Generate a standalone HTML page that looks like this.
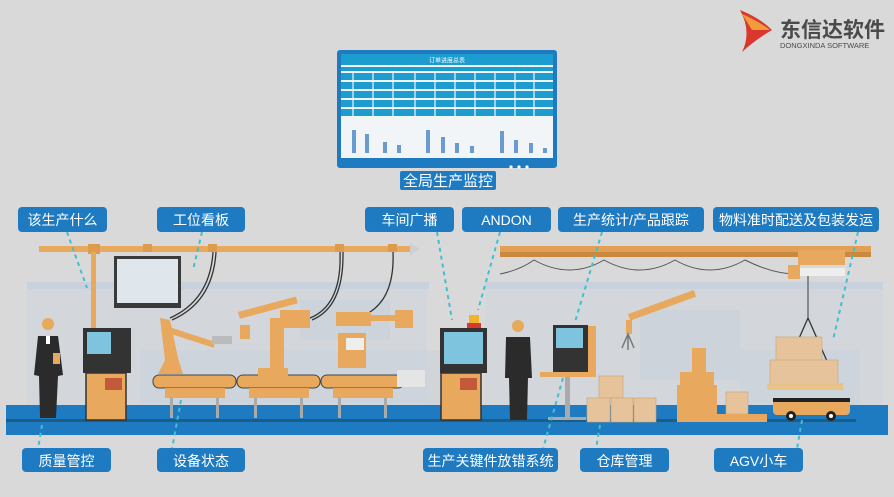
<!DOCTYPE html>
<html><head><meta charset="utf-8"><style>
html,body{margin:0;padding:0;background:#d9d9d9;}
svg{display:block;}
text{font-family:"Liberation Sans","Noto Sans CJK SC",sans-serif;}
</style></head><body>
<svg width="894" height="497" viewBox="0 0 894 497" xmlns="http://www.w3.org/2000/svg">
<rect width="894" height="497" fill="#d9d9d9"/>
<g fill="#c9d2dc">
<rect x="27" y="282" width="402" height="7"/>
<rect x="485" y="282" width="398" height="7"/>
<rect x="27" y="289" width="400" height="116" opacity="0.35"/>
<rect x="485" y="289" width="398" height="116" opacity="0.35"/>
<rect x="300" y="300" width="90" height="40" opacity="0.7"/>
<rect x="640" y="310" width="100" height="70" opacity="0.7"/>
<rect x="740" y="350" width="120" height="55" opacity="0.6"/>
<rect x="140" y="350" width="300" height="55" opacity="0.5"/>
</g>
<rect x="6" y="405" width="882" height="30" fill="#1f7bc1"/>
<rect x="6" y="419" width="850" height="3" fill="#1a5e86"/>
<!-- top monitor -->
<rect x="337" y="50" width="220" height="118" rx="3" fill="#1f7bc1"/>
<rect x="341" y="54" width="212" height="104" fill="#f2f5f8"/>
<rect x="341" y="54" width="212" height="11" fill="#1d9ccf"/>
<text x="447" y="62.5" font-size="6" fill="#fff" text-anchor="middle">订单进度总表</text>
<rect x="341" y="67" width="212" height="4" fill="#1d9ccf"/>
<g fill="#1d9ccf">
<rect x="341" y="73" width="212" height="7"/>
<rect x="341" y="82" width="212" height="7"/>
<rect x="341" y="91" width="212" height="7"/>
<rect x="341" y="100" width="212" height="7"/>
<rect x="341" y="109" width="212" height="7"/>
</g>
<g stroke="#f2f5f8" stroke-width="1.2">
<line x1="353" y1="72" x2="353" y2="117"/><line x1="373" y1="72" x2="373" y2="117"/><line x1="393" y1="72" x2="393" y2="117"/>
<line x1="415" y1="72" x2="415" y2="117"/><line x1="435" y1="72" x2="435" y2="117"/><line x1="455" y1="72" x2="455" y2="117"/>
<line x1="475" y1="72" x2="475" y2="117"/><line x1="495" y1="72" x2="495" y2="117"/><line x1="515" y1="72" x2="515" y2="117"/><line x1="534" y1="72" x2="534" y2="117"/>
</g>
<g fill="#6a9bd0">
<rect x="352" y="130" width="4" height="23"/><rect x="365" y="134" width="4" height="19"/><rect x="383" y="142" width="4" height="11"/><rect x="397" y="145" width="4" height="8"/>
<rect x="426" y="130" width="4" height="23"/><rect x="441" y="137" width="4" height="16"/><rect x="455" y="143" width="4" height="10"/><rect x="470" y="146" width="4" height="7"/>
<rect x="500" y="131" width="4" height="22"/><rect x="514" y="140" width="4" height="13"/><rect x="529" y="143" width="4" height="10"/><rect x="543" y="148" width="4" height="5"/>
</g>
<circle cx="511" cy="167" r="1.6" fill="#fff"/><circle cx="519" cy="167" r="1.6" fill="#fff"/><circle cx="527" cy="167" r="1.6" fill="#fff"/>
<rect x="400" y="171" width="96" height="19" rx="2" fill="#1f7bc1"/>
<text x="448" y="186" font-size="15" fill="#fff" text-anchor="middle">全局生产监控</text>
<!-- logo -->
<path d="M740 10 Q760 18 772 30 Q755 40 742 52 Q752 32 740 10 Z" fill="#d8382e"/>
<path d="M742 14 Q760 22 770 30 L752 30 Z" fill="#f39a3a"/>
<text x="780" y="37" font-size="21" fill="#4a4a4a" font-weight="bold">东信达软件</text>
<text x="780" y="48" font-size="7.5" fill="#4a4a4a">DONGXINDA SOFTWARE</text>
<!-- pipes -->
<rect x="39" y="246" width="371" height="6" fill="#e8a85e"/>
<rect x="88" y="244" width="12" height="10" fill="#dd9b4e"/>
<rect x="91" y="252" width="5" height="78" fill="#e8a85e"/>
<rect x="143" y="244" width="9" height="8" fill="#dd9b4e"/><rect x="208" y="244" width="9" height="8" fill="#dd9b4e"/>
<rect x="335" y="244" width="9" height="8" fill="#dd9b4e"/><rect x="388" y="244" width="9" height="8" fill="#dd9b4e"/>
<path d="M410 243 L420 249 L410 255 Z" fill="#cfcfcf"/>
<rect x="500" y="246" width="371" height="11" fill="#e3a055"/><rect x="500" y="252" width="371" height="5" fill="#c98a40"/>
<path d="M500 274 Q520 270 534 260 Q570 280 604 260 Q640 280 675 260 Q710 280 745 260 Q775 275 800 274" fill="none" stroke="#555" stroke-width="1"/>
<g fill="none" stroke="#333" stroke-width="1.3">
<path d="M213 252 Q210 300 170 318"/><path d="M216 252 Q213 302 172 320"/>
<path d="M340 252 Q342 305 310 318"/><path d="M343 252 Q344 307 312 320"/>
<path d="M393 252 Q395 300 365 315"/>
</g>
<rect x="798" y="250" width="47" height="15" fill="#e8a85e"/>
<rect x="788" y="265" width="12" height="14" fill="#e8a85e"/>
<rect x="800" y="268" width="45" height="8" fill="#eee"/>
<line x1="808" y1="276" x2="808" y2="318" stroke="#888" stroke-width="2"/>
<path d="M808 318 L778 386 M808 318 L838 386" stroke="#333" stroke-width="1.3" fill="none"/>
<rect x="114" y="256" width="67" height="52" fill="#3a3a3a"/>
<rect x="117" y="259" width="61" height="44" fill="#dfe6ec"/>
<circle cx="48" cy="324" r="6" fill="#e7a95a"/>
<path d="M38 336 L58 336 L63 375 L58 376 L56 418 L40 418 L39 376 L34 375 Z" fill="#2b2b2b"/>
<rect x="46" y="336" width="4" height="8" fill="#fff"/>
<rect x="53" y="353" width="7" height="11" fill="#e7a95a"/>
<rect x="83" y="328" width="48" height="45" fill="#333"/>
<rect x="87" y="332" width="24" height="22" fill="#7fc4df"/>
<rect x="86" y="373" width="40" height="47" fill="#e8a85e" stroke="#333" stroke-width="1.5"/>
<rect x="105" y="378" width="17" height="12" fill="#c25a3a"/>
<g>
<rect x="153" y="375" width="83" height="13" rx="6" fill="#e8a85e" stroke="#444" stroke-width="1"/>
<rect x="237" y="375" width="83" height="13" rx="6" fill="#e8a85e" stroke="#444" stroke-width="1"/>
<rect x="321" y="375" width="83" height="13" rx="6" fill="#e8a85e" stroke="#444" stroke-width="1"/>
<rect x="165" y="388" width="60" height="10" fill="#e8a85e"/><rect x="249" y="388" width="60" height="10" fill="#e8a85e"/><rect x="333" y="388" width="60" height="10" fill="#e8a85e"/>
<g fill="#aaa">
<rect x="170" y="398" width="3" height="20"/><rect x="216" y="398" width="3" height="20"/>
<rect x="254" y="398" width="3" height="20"/><rect x="300" y="398" width="3" height="20"/>
<rect x="338" y="398" width="3" height="20"/><rect x="384" y="398" width="3" height="20"/>
</g>
</g>
<g fill="#e8a85e">
<path d="M158 374 L183 374 L178 358 L170 320 L160 318 L165 360 Z"/>
<rect x="163" y="325" width="55" height="6" transform="rotate(18 163 325)"/>
<rect x="212" y="336" width="20" height="8" fill="#bbb"/>
<rect x="258" y="368" width="30" height="8"/>
<rect x="270" y="318" width="14" height="52"/>
<rect x="238" y="312" width="60" height="7" transform="rotate(-15 238 312)"/>
<rect x="280" y="310" width="30" height="18"/>
<rect x="240" y="325" width="10" height="14"/>
<rect x="336" y="312" width="35" height="14"/>
<rect x="338" y="333" width="28" height="35"/>
<rect x="346" y="338" width="18" height="12" fill="#eee"/>
<rect x="370" y="315" width="30" height="6"/>
<rect x="395" y="310" width="18" height="18"/>
</g>
<rect x="397" y="370" width="28" height="17" fill="#e5e5e5"/>
<rect x="440" y="328" width="47" height="45" fill="#333"/>
<rect x="444" y="332" width="39" height="32" fill="#7fc4df"/>
<rect x="441" y="373" width="40" height="47" fill="#e8a85e" stroke="#333" stroke-width="1.5"/>
<rect x="460" y="378" width="17" height="12" fill="#c25a3a"/>
<rect x="469" y="315" width="10" height="9" fill="#f2b32a"/><rect x="467" y="323" width="14" height="5" fill="#d8382e"/>
<circle cx="518" cy="326" r="6" fill="#e7a95a"/>
<path d="M506 337 L530 337 L532 378 L528 378 L527 420 L510 420 L509 378 L505 378 Z" fill="#2b2b2b"/>
<rect x="553" y="325" width="35" height="50" fill="#333"/>
<rect x="556" y="328" width="27" height="20" fill="#7fc4df"/>
<rect x="588" y="326" width="8" height="48" fill="#e8a85e"/>
<rect x="540" y="372" width="56" height="5" fill="#e8a85e"/>
<rect x="565" y="377" width="5" height="40" fill="#aaa"/>
<rect x="548" y="417" width="38" height="3" fill="#aaa"/>
<g fill="#e6c39a" stroke="#c9a37a" stroke-width="0.6">
<rect x="599" y="376" width="24" height="22"/>
<rect x="587" y="398" width="23" height="24"/><rect x="611" y="398" width="22" height="24"/><rect x="634" y="398" width="22" height="24"/>
<rect x="726" y="392" width="22" height="22"/>
<rect x="776" y="337" width="46" height="24"/><rect x="770" y="360" width="68" height="24"/>
</g>
<rect x="710" y="414" width="57" height="8" fill="#e8a85e"/>
<rect x="767" y="383" width="76" height="7" fill="#e8c48a"/>
<g fill="#e8a85e">
<rect x="677" y="385" width="40" height="37"/>
<rect x="680" y="372" width="34" height="13"/>
<rect x="692" y="348" width="14" height="25"/>
<rect x="628" y="314" width="70" height="7" transform="rotate(-20 628 314)"/>
<rect x="626" y="320" width="6" height="14"/>
</g>
<path d="M622 348 L628 334 L634 348 M628 334 L628 350" stroke="#777" stroke-width="1.5" fill="none"/>
<rect x="773" y="398" width="77" height="17" rx="4" fill="#e8a85e"/>
<rect x="773" y="398" width="77" height="4" fill="#222"/>
<circle cx="791" cy="416" r="5" fill="#222"/><circle cx="831" cy="416" r="5" fill="#222"/>
<circle cx="791" cy="416" r="2" fill="#fff"/><circle cx="831" cy="416" r="2" fill="#fff"/>
<g stroke="#3fbfcf" stroke-width="2" stroke-dasharray="4,4" fill="none">
<line x1="67" y1="232" x2="87" y2="288"/>
<line x1="202" y1="232" x2="193" y2="270"/>
<line x1="437" y1="232" x2="452" y2="320"/>
<line x1="500" y1="232" x2="478" y2="310"/>
<line x1="602" y1="232" x2="575" y2="322"/>
<line x1="858" y1="232" x2="833" y2="340"/>
<line x1="42" y1="425" x2="38" y2="449"/>
<line x1="181" y1="400" x2="172" y2="449"/>
<line x1="563" y1="378" x2="543" y2="449"/>
<line x1="600" y1="425" x2="596" y2="449"/>
<line x1="802" y1="420" x2="797" y2="449"/>
</g>
<g fill="#1f7bc1">
<rect x="18" y="207" width="89" height="25" rx="4"/>
<rect x="157" y="207" width="88" height="25" rx="4"/>
<rect x="365" y="207" width="89" height="25" rx="4"/>
<rect x="462" y="207" width="89" height="25" rx="4"/>
<rect x="558" y="207" width="146" height="25" rx="4"/>
<rect x="713" y="207" width="166" height="25" rx="4"/>
<rect x="22" y="448" width="89" height="24" rx="4"/>
<rect x="157" y="448" width="88" height="24" rx="4"/>
<rect x="423" y="448" width="135" height="24" rx="4"/>
<rect x="580" y="448" width="89" height="24" rx="4"/>
<rect x="714" y="448" width="89" height="24" rx="4"/>
</g>
<g fill="#fff" font-size="14" text-anchor="middle">
<text x="62.5" y="225">该生产什么</text>
<text x="201" y="225">工位看板</text>
<text x="409.5" y="225">车间广播</text>
<text x="506.5" y="225">ANDON</text>
<text x="631" y="225">生产统计/产品跟踪</text>
<text x="796" y="225">物料准时配送及包装发运</text>
<text x="66.5" y="466">质量管控</text>
<text x="201" y="466">设备状态</text>
<text x="490.5" y="466">生产关键件放错系统</text>
<text x="624.5" y="466">仓库管理</text>
<text x="758.5" y="466">AGV小车</text>
</g>
</svg>
</body></html>
